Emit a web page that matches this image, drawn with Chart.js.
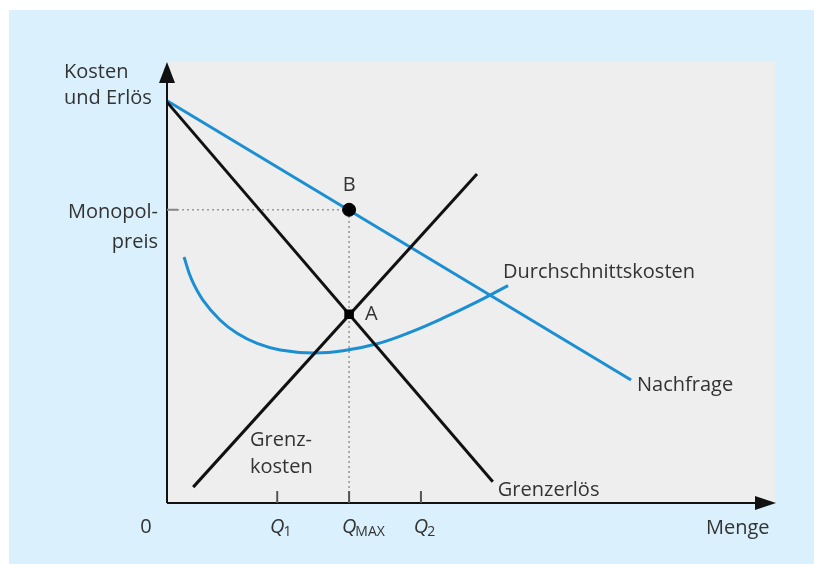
<!DOCTYPE html>
<html>
<head>
<meta charset="utf-8">
<script src="https://cdn.jsdelivr.net/npm/chart.js@4/dist/chart.umd.min.js"></script>
<style>
  html, body { margin: 0; padding: 0; background: #daf0fc; overflow: hidden; }
  #wrap { width: 814px; height: 564px; }
</style>
</head>
<body>
<div id="wrap"><canvas id="chart" width="814" height="564"></canvas></div>
<script>
// Daten (Menge 0..100, Kosten/Erlös 0..100)
const nachfrage = [{ x: 0, y: 91.2 }, { x: 76.2, y: 27.9 }];
const grenzerloes = [{ x: 0, y: 90.9 }, { x: 53.5, y: 4.8 }];
const grenzkosten = [{ x: 4.3, y: 3.6 }, { x: 50.9, y: 74.6 }];
const durchschnittskosten = [
  { x: 2.8, y: 55.8 }, { x: 4.0, y: 50.8 }, { x: 5.9, y: 46.0 }, { x: 8.7, y: 41.5 },
  { x: 11.5, y: 38.5 }, { x: 14.8, y: 36.2 }, { x: 18.6, y: 34.7 }, { x: 24.0, y: 34.0 },
  { x: 28.9, y: 34.5 }, { x: 34.5, y: 36.1 }, { x: 39.9, y: 38.7 }, { x: 45.3, y: 41.9 },
  { x: 50.9, y: 45.6 }, { x: 56.0, y: 49.3 }
];
const qMax = 29.9;
const monopolpreis = 66.5;
const punktA = 42.8;
const qTicks = [18.1, 29.9, 41.7];
const qSubs = ['1', 'MAX', '2'];

const BLUE = '#1b8fd2';
const TEXT = '#333333';
const FONT = '"Open Sans", "DejaVu Sans", sans-serif';

// Hintergrund, Achsen und Beschriftungen
const diagramm = {
  id: 'diagramm',
  beforeDraw(chart) {
    const { ctx, chartArea: a } = chart;
    ctx.save();
    ctx.fillStyle = '#ffffff';
    ctx.fillRect(0, 0, chart.width, chart.height);
    ctx.fillStyle = '#daf0fc';
    ctx.fillRect(9, 10, chart.width - 9, chart.height - 10);
    ctx.fillStyle = '#eeeeee';
    ctx.fillRect(a.left, a.top - 1, a.right - a.left - 1, a.bottom - a.top + 1);
    ctx.restore();
  },
  afterDatasetsDraw(chart) {
    const { ctx, chartArea: a, scales: { x, y } } = chart;
    const x0 = x.getPixelForValue(0);
    const y0 = y.getPixelForValue(0);
    ctx.save();
    // Achsen
    ctx.strokeStyle = '#111';
    ctx.lineWidth = 2;
    ctx.beginPath();
    ctx.moveTo(x0, y0);
    ctx.lineTo(x0, a.top + 18);
    ctx.moveTo(x0, y0);
    ctx.lineTo(a.right - 18, y0);
    ctx.stroke();
    ctx.fillStyle = '#111';
    ctx.beginPath();
    ctx.moveTo(x0, a.top);
    ctx.lineTo(x0 - 8, a.top + 21);
    ctx.lineTo(x0 + 8, a.top + 21);
    ctx.closePath();
    ctx.fill();
    ctx.beginPath();
    ctx.moveTo(a.right, y0);
    ctx.lineTo(a.right - 21, y0 - 7);
    ctx.lineTo(a.right - 21, y0 + 7);
    ctx.closePath();
    ctx.fill();

    // Striche an der x-Achse
    ctx.strokeStyle = '#555';
    ctx.lineWidth = 2;
    qTicks.forEach(q => {
      const px = x.getPixelForValue(q);
      ctx.beginPath();
      ctx.moveTo(px, y0);
      ctx.lineTo(px, y0 - 12);
      ctx.stroke();
    });
    // Strich an der y-Achse (Monopolpreis)
    const pyM = y.getPixelForValue(monopolpreis);
    ctx.strokeStyle = '#888';
    ctx.beginPath();
    ctx.moveTo(x0, pyM);
    ctx.lineTo(x0 + 11, pyM);
    ctx.stroke();

    // Texte
    ctx.fillStyle = TEXT;
    ctx.textBaseline = 'middle';
    ctx.font = '20px ' + FONT;
    ctx.textAlign = 'left';
    ctx.fillText('Kosten', 64, 72);
    ctx.fillText('und Erlös', 64, 98);
    ctx.textAlign = 'right';
    ctx.fillText('Monopol-', 158, 212);
    ctx.fillText('preis', 158, 242);

    ctx.textAlign = 'center';
    ctx.fillText('B', x.getPixelForValue(qMax), pyM - 24);
    ctx.textAlign = 'left';
    ctx.fillText('A', x.getPixelForValue(qMax) + 16, y.getPixelForValue(punktA));

    const dEnd = durchschnittskosten[durchschnittskosten.length - 1];
    ctx.fillText('Durchschnittskosten', x.getPixelForValue(dEnd.x) - 5, y.getPixelForValue(dEnd.y) - 13);
    const nEnd = nachfrage[1];
    ctx.fillText('Nachfrage', x.getPixelForValue(nEnd.x) + 6, y.getPixelForValue(nEnd.y) + 5);
    const gEnd = grenzerloes[1];
    ctx.fillText('Grenzerlös', x.getPixelForValue(gEnd.x) + 5, y.getPixelForValue(gEnd.y) + 8);
    ctx.fillText('Grenz-', 250, 440);
    ctx.fillText('kosten', 250, 467);
    ctx.fillText('Menge', 706, 528);

    ctx.textAlign = 'center';
    ctx.fillText('0', x0 - 21, 527);

    // Q-Beschriftungen
    qTicks.forEach((q, i) => {
      const px = x.getPixelForValue(q);
      ctx.textAlign = 'center';
      ctx.font = 'italic 20px ' + FONT;
      ctx.fillText('Q', px, 527);
      const w = ctx.measureText('Q').width;
      ctx.textAlign = 'left';
      ctx.font = '14px ' + FONT;
      ctx.fillText(qSubs[i], px + w / 2 - 1, 532);
    });
    ctx.restore();
  }
};

const lineStyle = { showLine: true, pointRadius: 0, borderWidth: 3, fill: false, clip: false };

// Reihenfolge: erster Datensatz liegt oben
new Chart(document.getElementById('chart'), {
  type: 'scatter',
  data: {
    datasets: [
      { data: [{ x: qMax, y: monopolpreis }], pointRadius: 6.5, pointStyle: 'circle',
        pointBackgroundColor: '#000', pointBorderColor: '#000', pointBorderWidth: 1, clip: false },
      { data: [{ x: qMax, y: punktA }], pointRadius: 6, pointStyle: 'rect',
        pointBackgroundColor: '#000', pointBorderColor: '#000', pointBorderWidth: 1, clip: false },
      { ...lineStyle, borderColor: '#111', data: grenzerloes },
      { ...lineStyle, borderColor: '#111', data: grenzkosten },
      { ...lineStyle, borderColor: BLUE, data: nachfrage },
      { ...lineStyle, borderColor: BLUE, data: durchschnittskosten, tension: 0.4 },
      { ...lineStyle, borderColor: '#999', borderWidth: 1.6, borderDash: [2, 3],
        data: [{ x: 0, y: monopolpreis }, { x: qMax, y: monopolpreis }] },
      { ...lineStyle, borderColor: '#999', borderWidth: 1.6, borderDash: [2, 3],
        data: [{ x: qMax, y: 0 }, { x: qMax, y: monopolpreis }] }
    ]
  },
  options: {
    responsive: false,
    animation: false,
    events: [],
    layout: { padding: { left: 167, right: 38, top: 62, bottom: 61 } },
    plugins: { legend: { display: false }, tooltip: { enabled: false } },
    scales: {
      x: { type: 'linear', min: 0, max: 100, display: false },
      y: { type: 'linear', min: 0, max: 100, display: false }
    }
  },
  plugins: [diagramm]
});
</script>
</body>
</html>
